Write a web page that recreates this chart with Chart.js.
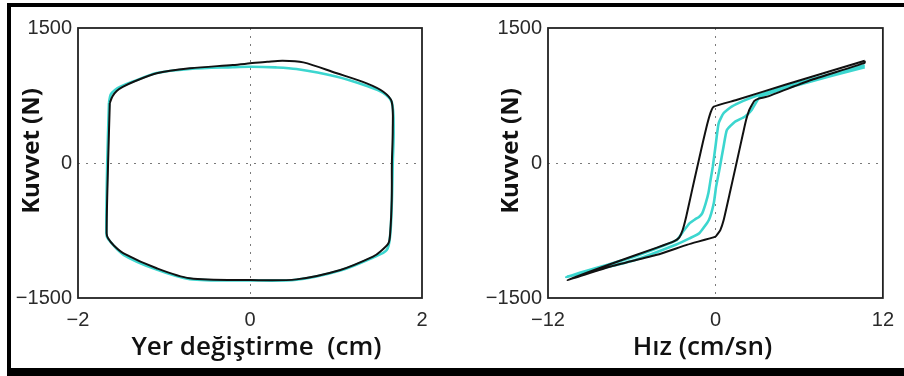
<!DOCTYPE html>
<html><head><meta charset="utf-8">
<script src="https://cdn.jsdelivr.net/npm/chart.js@4.4.1/dist/chart.umd.min.js"></script>
<style>
html,body{margin:0;padding:0;background:#fff;width:904px;height:376px;overflow:hidden;}
#frame{position:absolute;left:7px;top:3px;width:893px;height:361px;border-left:4px solid #000;border-top:4px solid #000;border-bottom:8px solid #000;}
canvas{position:absolute;top:0;}
#c1{left:0}
#c2{left:452px}
</style></head><body>
<div id="frame"></div>
<canvas id="c1" width="452" height="376"></canvas>
<canvas id="c2" width="452" height="376"></canvas>
<script>
// ---- tick values ----
const forceTicks = [-1500, 0, 1500];
const dispTicks = [-2, 0, 2];
const velTicks = [-12, 0, 12];

// ---- left: force vs displacement (cm, N) ----
const dispBlackX = [-1.63, -1.60, -1.55, -1.48, -1.36, -1.085, -0.70, -0.20, 0.00, 0.20, 0.38, 0.62, 1.00, 1.357, 1.55, 1.648, 1.66, 1.65, 1.648, 1.63, 1.61, 1.52, 1.43, 1.05, 0.54, 0.00, -0.70, -1.085, -1.47, -1.58, -1.65, -1.667, -1.65, -1.63];
const dispBlackF = [667, 740, 800, 845, 900, 997, 1052, 1089, 1107, 1125, 1137, 1118, 1000, 885, 792, 681, 367, 0, -411, -780, -892, -980, -1041, -1189, -1293, -1300, -1281, -1170, -1004, -920, -837, -780, 0, 667];
const dispCyanX = [-1.64, -1.62, -1.57, -1.50, -1.36, -1.085, -0.70, -0.20, 0.00, 0.30, 0.54, 1.00, 1.36, 1.55, 1.65, 1.67, 1.66, 1.65, 1.63, 1.59, 1.43, 1.05, 0.54, 0.00, -0.70, -1.085, -1.47, -1.65, -1.67, -1.66, -1.64];
const dispCyanF = [667, 760, 811, 850, 905, 1000, 1045, 1065, 1070, 1062, 1044, 960, 855, 780, 670, 360, 0, -420, -800, -967, -1050, -1195, -1297, -1305, -1290, -1185, -1020, -845, -780, 0, 667];

// ---- right: force vs velocity (cm/sn, N) ----
const velBlackV = [10.7, 5.0, 1.5, -0.12, -0.35, -0.60, -0.90, -1.20, -1.50, -1.80, -2.10, -2.35, -2.60, -2.95, -4.19, -7.5, -10.6, -7.5, -4.19, -2.0, 0.0, 0.15, 0.35, 0.58, 1.05, 1.51, 1.98, 2.20, 2.40, 2.56, 2.79, 3.10, 3.70, 7.0, 10.7, 10.7];
const velBlackF = [1137, 870, 700, 626, 560, 425, 230, 25, -180, -390, -600, -745, -830, -868, -940, -1122, -1300, -1150, -1020, -907, -818, -790, -745, -640, -320, 0, 330, 480, 580, 630, 690, 715, 737, 930, 1112, 1137];
const velCyanV = [10.7, 6.0, 3.0, 2.0, 1.16, 0.58, 0.23, 0.00, -0.19, -0.35, -0.50, -0.70, -0.95, -1.16, -1.50, -1.86, -2.33, -2.80, -6.0, -10.7, -6.0, -2.80, -1.86, -1.16, -0.47, -0.12, 0.05, 0.30, 0.58, 0.82, 1.40, 2.10, 2.60, 3.20, 6.0, 10.7];
const velCyanF = [1085, 895, 750, 690, 626, 552, 441, 181, -41, -189, -330, -448, -560, -596, -630, -670, -763, -860, -1050, -1265, -1090, -905, -837, -781, -633, -448, -260, -60, 181, 367, 459, 514, 590, 735, 870, 1065];

function fmt(v) { return String(v).replace('-', '\u2212'); }
function pts(xs, ys) { return xs.map((x, i) => ({ x: x, y: ys[i] })); }
function zeroGrid(ctx) { return ctx.tick && ctx.tick.value === 0 ? '#7a7a7a' : 'rgba(0,0,0,0)'; }

const boxPlugin = {
  id: 'box',
  afterDatasetsDraw(chart) {
    const a = chart.chartArea, c = chart.ctx;
    c.save();
    c.strokeStyle = '#222';
    c.lineWidth = 1.8;
    c.strokeRect(a.left, a.top, a.right - a.left, a.bottom - a.top);
    c.restore();
  }
};

function build(id, xTicks, bx, by, cx, cy, xTitle, yTitle, yAxisW, yTitlePad, padRight, tension) {
  new Chart(document.getElementById(id), {
    type: 'scatter',
    data: { datasets: [
      { data: pts(bx, by), showLine: true, borderColor: '#111', borderWidth: 2, pointRadius: 0, tension: tension, order: 0 },
      { data: pts(cx, cy), showLine: true, borderColor: '#3cd6cf', borderWidth: 2.6, pointRadius: 0, tension: tension, order: 1 }
    ] },
    options: {
      responsive: false, animation: false, devicePixelRatio: 1,
      layout: { padding: { left: 0, top: 28, right: padRight, bottom: 0 } },
      plugins: { legend: { display: false }, tooltip: { enabled: false } },
      scales: {
        x: {
          type: 'linear', min: xTicks[0], max: xTicks[xTicks.length - 1],
          afterBuildTicks(axis) { axis.ticks = xTicks.map(v => ({ value: v })); },
          afterFit(axis) { axis.height = 78; },
          grid: { color: zeroGrid, drawTicks: false, lineWidth: 1 },
          border: { display: false, dash: [2, 6] },
          ticks: { padding: 10, color: '#2a2a2a', font: { family: 'Liberation Sans', size: 20 }, callback: v => fmt(v), maxRotation: 0, autoSkip: false },
          title: { display: true, text: xTitle, color: '#111', font: { family: 'Open Sans', size: 26, weight: '600' }, padding: { top: 0, bottom: 13 } }
        },
        y: {
          type: 'linear', min: forceTicks[0], max: forceTicks[forceTicks.length - 1],
          afterBuildTicks(axis) { axis.ticks = forceTicks.map(v => ({ value: v })); },
          afterFit(axis) { axis.width = yAxisW; },
          grid: { color: zeroGrid, drawTicks: false, lineWidth: 1 },
          border: { display: false, dash: [2, 6] },
          ticks: { padding: 6, color: '#2a2a2a', font: { family: 'Liberation Sans', size: 20 }, callback: v => fmt(v), autoSkip: false },
          title: { display: true, text: yTitle, color: '#111', font: { family: 'Open Sans', size: 24, weight: 'bold' }, padding: { top: yTitlePad, bottom: 0 } }
        }
      }
    },
    plugins: [boxPlugin]
  });
}

build('c1', dispTicks, dispBlackX, dispBlackF, dispCyanX, dispCyanF, '\u2002Yer değiştirme  (cm)', '\u2003Kuvvet (N)', 78, 18, 30, 0.3);
build('c2', velTicks, velBlackV, velBlackF, velCyanV, velCyanF, 'Hız (cm/sn)\u2003', '\u2003Kuvvet (N)', 96, 45, 12, 0.15);
</script>
</body></html>
